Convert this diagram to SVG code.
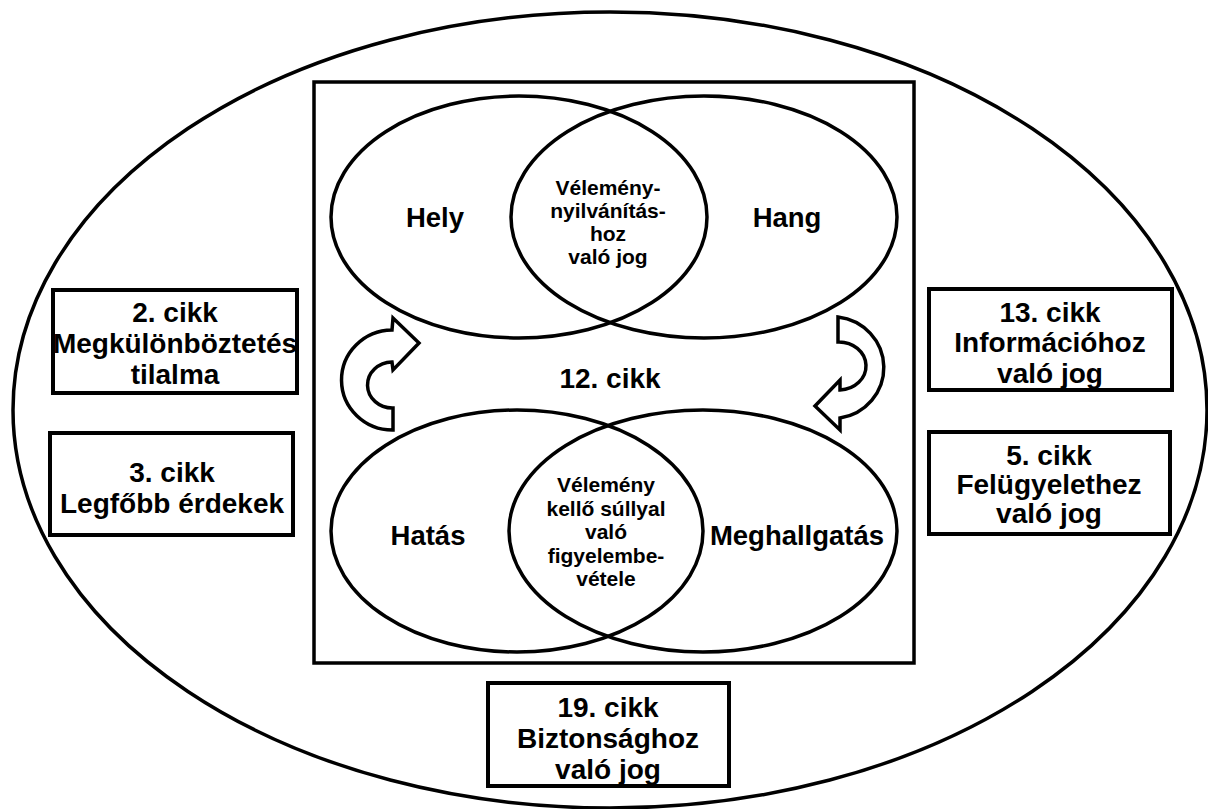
<svg xmlns="http://www.w3.org/2000/svg" width="1208" height="809" viewBox="0 0 1208 809">
<style>
.ln{fill:none;stroke:#000;stroke-width:3.5}
.box{fill:#fff;stroke:#000;stroke-width:4}
.arr{fill:#fff;stroke:#000;stroke-width:3.5;stroke-linejoin:miter}
text{font-family:"Liberation Sans",Arial,sans-serif;font-weight:bold;fill:#000;text-anchor:middle}
.b{font-size:28px}
.m{font-size:27.5px}
.s{font-size:21px}
</style>
<rect width="1208" height="809" fill="#fff"/>
<g id="outer"><ellipse class="ln" cx="610" cy="410" rx="597" ry="398"/></g>
<g id="frame"><rect class="ln" x="314" y="82" width="600" height="581" stroke-width="4"/>
<text class="b" x="610" y="388">12. cikk</text></g>
<g id="hely"><ellipse class="ln" cx="519" cy="217" rx="188" ry="121"/><text class="m" x="435" y="227">Hely</text></g>
<g id="hang"><ellipse class="ln" cx="704" cy="217" rx="193" ry="121"/><text class="m" x="787" y="227">Hang</text></g>
<g id="velemenynyilvanitas">
<text class="s" x="608" y="195">Vélemény-</text><text class="s" x="608" y="218">nyilvánítás-</text><text class="s" x="608" y="241">hoz</text><text class="s" x="608" y="264">való jog</text></g>
<g id="hatas"><ellipse class="ln" cx="517" cy="531" rx="186" ry="121"/><text class="m" x="428" y="545">Hatás</text></g>
<g id="meghallgatas"><ellipse class="ln" cx="703" cy="531" rx="194" ry="121"/><text class="m" x="797" y="545">Meghallgatás</text></g>
<g id="figyelembevetel">
<text class="s" x="606" y="492">Vélemény</text><text class="s" x="606" y="515.5">kellő súllyal</text><text class="s" x="606" y="539">való</text><text class="s" x="606" y="562.5">figyelembe-</text><text class="s" x="606" y="586">vétele</text></g>
<g id="connectors">
<path class="arr" d="M393,430 A51,50 0 0 1 392,330 L393,318 L419,343 L393,370 L392,362 A25,23 0 0 0 393,408 Z"/>
<path class="arr" d="M838,317 A52,51 0 0 1 840,418 L840,430 L815,406 L840,380 L840,390 A27,24 0 0 0 838,342 Z"/>
</g>
<g id="cikk2"><rect class="box" x="53" y="290" width="244" height="103"/>
<text class="b" x="175" y="322">2. cikk</text><text class="b" x="175" y="353">Megkülönböztetés</text><text class="b" x="175" y="384">tilalma</text></g>
<g id="cikk3"><rect class="box" x="50" y="433" width="243" height="102"/>
<text class="b" x="172" y="482">3. cikk</text><text class="b" x="172" y="513">Legfőbb érdekek</text></g>
<g id="cikk13"><rect class="box" x="929" y="289" width="243" height="101"/>
<text class="b" x="1050" y="322">13. cikk</text><text class="b" x="1050" y="352">Információhoz</text><text class="b" x="1050" y="383">való jog</text></g>
<g id="cikk5"><rect class="box" x="929" y="432" width="241" height="102"/>
<text class="b" x="1049" y="465">5. cikk</text><text class="b" x="1049" y="494">Felügyelethez</text><text class="b" x="1049" y="523">való jog</text></g>
<g id="cikk19"><rect class="box" x="488" y="683" width="241" height="103"/>
<text class="b" x="608" y="717">19. cikk</text><text class="b" x="608" y="748">Biztonsághoz</text><text class="b" x="608" y="779">való jog</text></g>
</svg>
